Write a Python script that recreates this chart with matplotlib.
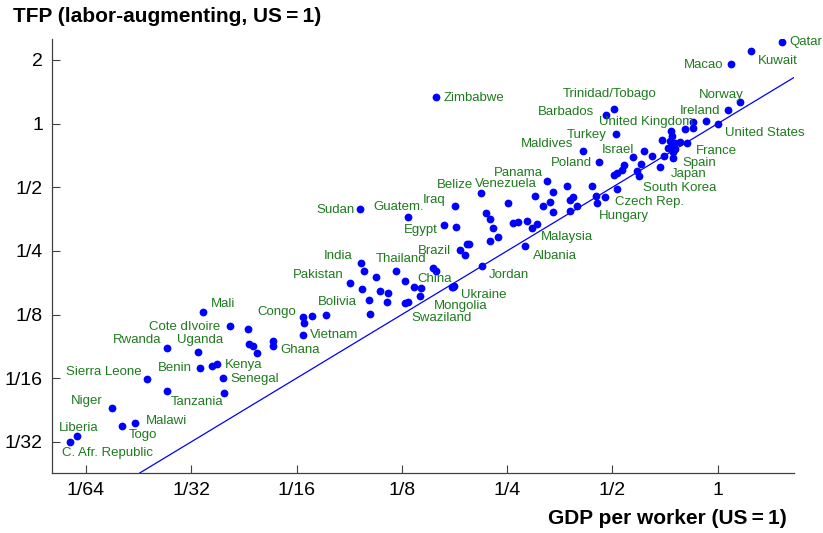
import matplotlib as mpl
mpl.use('Agg')
import matplotlib.pyplot as plt

plt.rcParams['font.family'] = ['Liberation Sans', 'DejaVu Sans']

# GDP per worker and TFP, both relative to the US ("" = unlabeled country)
labeled = [
	"Qatar", "Kuwait", "Macao", "Norway", "Ireland", "United States",
	"United Kingdom", "France", "Spain", "Japan", "South Korea", "Czech Rep.",
	"Hungary", "Israel", "Turkey", "Trinidad/Tobago", "Barbados", "Maldives",
	"Poland", "Zimbabwe", "Panama", "Venezuela", "Belize", "Iraq", "Sudan",
	"Guatem.", "Egypt", "Brazil", "Malaysia", "Albania", "Jordan", "India",
	"Thailand", "Pakistan", "China", "Ukraine", "Mongolia", "Swaziland",
	"Bolivia", "Congo", "Vietnam", "Ghana", "Mali", "Cote dIvoire", "Rwanda",
	"Uganda", "Benin", "Kenya", "Senegal", "Sierra Leone", "Tanzania", "Niger",
	"Malawi", "Togo", "Liberia", "C. Afr. Republic",
]
labeled_gdp = [
	1.530, 1.245, 1.092, 1.158, 1.070, 1.0,
	0.852, 0.815, 0.747, 0.684, 0.597, 0.476,
	0.453, 0.614, 0.512, 0.505, 0.480, 0.411,
	0.459, 0.157, 0.325, 0.300, 0.211, 0.177, 0.0948,
	0.130, 0.165, 0.183, 0.294, 0.282, 0.212, 0.0954,
	0.120, 0.0887, 0.1357, 0.175, 0.174, 0.176,
	0.1009, 0.0653, 0.0653, 0.0534, 0.0337, 0.0402, 0.0267,
	0.0326, 0.0330, 0.0371, 0.0384, 0.0234, 0.0387, 0.0185,
	0.0215, 0.0198, 0.0147, 0.0141,
]
labeled_tfp = [
	2.425, 2.206, 1.908, 1.265, 1.160, 1.0,
	1.014, 0.812, 0.690, 0.620, 0.565, 0.448,
	0.422, 0.744, 0.890, 1.176, 1.095, 0.744,
	0.658, 1.341, 0.537, 0.454, 0.470, 0.409, 0.393,
	0.360, 0.333, 0.252, 0.320, 0.263, 0.212, 0.218,
	0.200, 0.177, 0.169, 0.169, 0.168, 0.170,
	0.146, 0.1212, 0.0995, 0.0887, 0.129, 0.1105, 0.0866,
	0.0829, 0.0697, 0.0732, 0.0627, 0.0621, 0.0529, 0.0452,
	0.0382, 0.0373, 0.0333, 0.0312,
]
other_gdp = [
	0.926, 0.852, 0.805, 0.733, 0.739, 0.695, 0.730, 0.755, 0.780, 0.739,
	0.755, 0.722, 0.746, 0.651, 0.700, 0.571, 0.604, 0.540, 0.532, 0.514,
	0.506, 0.586, 0.516, 0.436, 0.370, 0.338, 0.252, 0.331, 0.316, 0.338,
	0.385, 0.377, 0.449, 0.395, 0.378, 0.218, 0.224, 0.179, 0.228, 0.259,
	0.269, 0.284, 0.305, 0.236, 0.224, 0.192, 0.195, 0.189, 0.153, 0.156,
	0.0975, 0.1051, 0.1277, 0.0959, 0.1081, 0.1140, 0.1131, 0.1014, 0.1415, 0.1405,
	0.1280, 0.1304, 0.0759, 0.0690, 0.0657, 0.0534, 0.0457, 0.0470, 0.0483, 0.0454,
	0.0357, 0.0267,
]
other_tfp = [
	1.029, 0.950, 0.946, 0.923, 0.874, 0.841, 0.827, 0.810, 0.821, 0.777,
	0.762, 0.764, 0.736, 0.702, 0.702, 0.693, 0.644, 0.637, 0.606, 0.582,
	0.571, 0.600, 0.488, 0.507, 0.507, 0.476, 0.422, 0.427, 0.407, 0.383,
	0.451, 0.435, 0.455, 0.407, 0.387, 0.378, 0.353, 0.323, 0.320, 0.340,
	0.343, 0.347, 0.336, 0.290, 0.277, 0.268, 0.268, 0.239, 0.207, 0.200,
	0.201, 0.188, 0.180, 0.165, 0.161, 0.158, 0.144, 0.126, 0.167, 0.153,
	0.142, 0.144, 0.125, 0.1232, 0.1136, 0.0940, 0.0911, 0.0890, 0.0818, 0.1064,
	0.0714, 0.0544,
]
ticks = [1/64, 1/32, 1/16, 1/8, 1/4, 1/2, 1, 2]
tick_labels = ["1/64", "1/32", "1/16", "1/8", "1/4", "1/2", "1", "2"]

# label placement: alignment and offset in pixels from the dot
label_pos = {
	"Qatar": ("left", 7, 0), "Kuwait": ("left", 7, -10), "Macao": ("right", -8, -1),
	"Norway": ("right", 4, 7), "Ireland": ("right", -8, -1),
	"United States": ("left", 7, -9), "United Kingdom": ("right", 0, 0),
	"France": ("left", 9, -8), "Spain": ("left", 9, -5), "Japan": ("left", 11, -7),
	"South Korea": ("left", 4, -12), "Czech Rep.": ("left", 10, -5),
	"Hungary": ("left", 1, -13), "Israel": ("right", -9, 1), "Turkey": ("right", -9, -1),
	"Trinidad/Tobago": ("center", -4, 15), "Barbados": ("right", -12, 3),
	"Maldives": ("right", -9, 7), "Poland": ("right", -7, -1),
	"Zimbabwe": ("left", 7, -1), "Panama": ("right", -4, 8),
	"Venezuela": ("right", 2, 12), "Belize": ("right", -8, 8), "Iraq": ("right", -9, 6),
	"Sudan": ("right", -5, -1), "Guatem.": ("right", 16, 10), "Egypt": ("right", -6, -5),
	"Brazil": ("right", -9, -1), "Malaysia": ("left", 9, -9), "Albania": ("left", 8, -10),
	"Jordan": ("left", 7, -9), "India": ("right", -8, 7), "Thailand": ("center", 5, 12),
	"Pakistan": ("right", -6, 8), "China": ("left", 3, 8), "Ukraine": ("left", 8, -8),
	"Mongolia": ("left", -18, -19), "Swaziland": ("left", -42, -32),
	"Bolivia": ("right", -12, -2), "Congo": ("right", -7, 5), "Vietnam": ("left", 7, 0),
	"Ghana": ("left", 8, -4), "Mali": ("left", 8, 8), "Cote dIvoire": ("right", -9, -1),
	"Rwanda": ("right", -6, 8), "Uganda": ("center", 2, 12), "Benin": ("right", -8, 0),
	"Kenya": ("left", 8, -1), "Senegal": ("left", 8, -1),
	"Sierra Leone": ("right", -6, 7), "Tanzania": ("right", 0, -9),
	"Niger": ("right", -9, 7), "Malawi": ("left", 11, 2), "Togo": ("left", 7, -9),
	"Liberia": ("center", 2, 8), "C. Afr. Republic": ("left", -8, -11),
}

blue = '#0000FF'
green = '#1f7a1f'

fig = plt.figure(figsize=(8.23, 5.33), dpi=100)
ax = fig.add_axes([0.0632, 0.1126, 0.9016, 0.8143])
ax.set_xscale('log', base=2)
ax.set_yscale('log', base=2)
ax.set_xlim(0.01249, 1.653)
ax.set_ylim(0.02225, 2.514)

ax.axline((1/64, 1/64), (1, 1), color=blue, lw=0.9, zorder=2)
ax.plot(other_gdp, other_tfp, 'o', color=blue, ms=5.6, mew=0, zorder=3)
ax.plot(labeled_gdp, labeled_tfp, 'o', color=blue, ms=5.6, mew=0, zorder=3)

for name, x, y in zip(labeled, labeled_gdp, labeled_tfp):
	ha, dx, dy = label_pos[name]
	ax.annotate(name, (x, y), xytext=(dx, dy), textcoords='offset pixels',
		ha=ha, va='center', fontsize=9.5, color=green, zorder=4,
		annotation_clip=False)

ax.set_xticks(ticks[:-1])
ax.set_xticklabels(tick_labels[:-1])
ax.set_yticks(ticks[1:])
ax.set_yticklabels(tick_labels[1:])
ax.minorticks_off()
ax.tick_params(direction='in', length=5.5, width=0.8, color='#404040',
	labelsize=14, pad=6.5)
for side in ('top', 'right'):
	ax.spines[side].set_visible(False)
for side in ('left', 'bottom'):
	ax.spines[side].set_color('#404040')
	ax.spines[side].set_linewidth(0.9)

fig.text(13/823, 1 - 16/533, "TFP (labor-augmenting, US\u2009=\u20091)",
	fontsize=15, fontweight='bold', ha='left', va='center')
fig.text(787/823, 1 - 518/533, "GDP per worker (US\u2009=\u20091)",
	fontsize=15, fontweight='bold', ha='right', va='center')

fig.savefig('out.png', dpi=100)
